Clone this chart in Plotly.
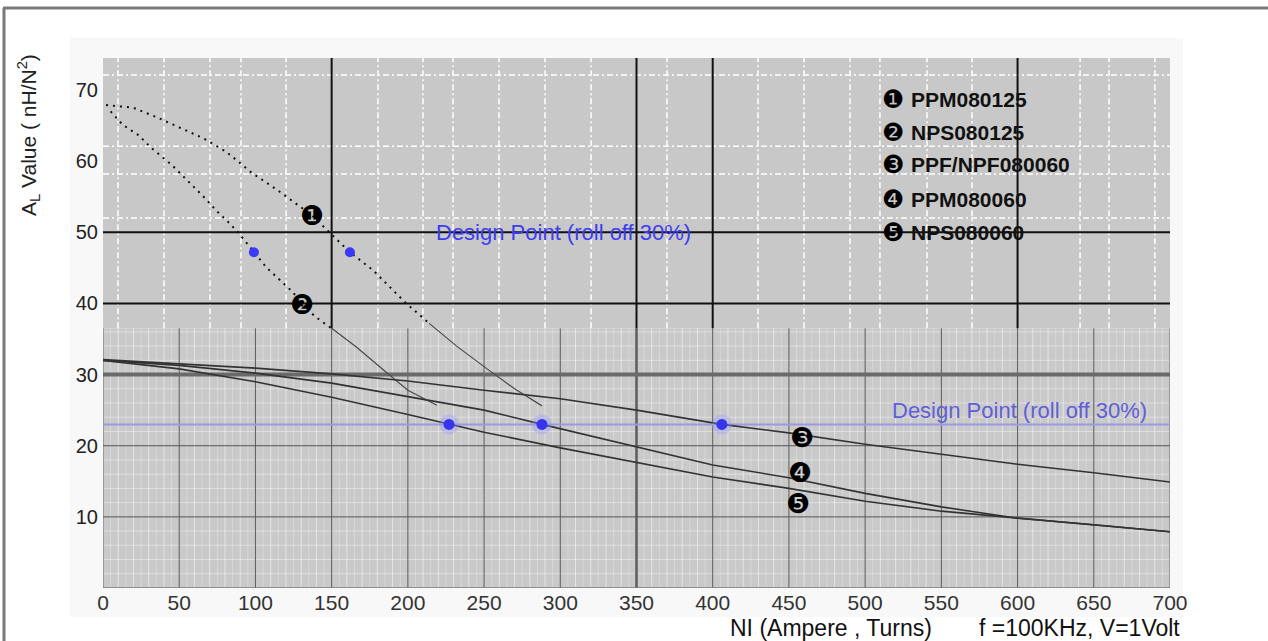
import plotly.graph_objects as go
import numpy as np

# ---------------- data ----------------
# upper dotted curves (part 1 & 2)
c1_dot_x = [2, 20, 35, 50, 66, 81, 98, 114, 131, 137, 162, 177, 198, 214]
c1_dot_y = [67.9, 67.5, 66.2, 64.8, 63.2, 61.3, 58.3, 56.0, 53.4, 52.4, 47.2, 44.7, 40.2, 37.2]
c1_sol_x = [214, 232, 252, 270, 288]
c1_sol_y = [37.2, 34.0, 30.8, 28.0, 25.6]

c2_dot_x = [5, 13, 23, 32, 45, 55, 66, 75, 81, 89, 99, 107, 116, 125, 130, 142, 150]
c2_dot_y = [67.0, 65.1, 63.7, 61.8, 59.5, 57.4, 55.0, 52.9, 51.7, 49.9, 47.2, 45.1, 43.3, 41.5, 39.8, 37.7, 36.5]
c2_sol_x = [150, 166, 186, 200, 219]
c2_sol_y = [36.5, 33.9, 30.3, 27.8, 25.7]

# lower curves
c3_x = [0, 50, 100, 150, 200, 250, 300, 350, 406, 450, 500, 550, 600, 650, 700]
c3_y = [32.1, 31.5, 30.9, 30.1, 29.1, 27.8, 26.6, 25.0, 23.0, 21.8, 20.2, 18.8, 17.4, 16.2, 14.9]
c4_x = [0, 50, 100, 150, 200, 250, 288, 350, 400, 450, 500, 550, 600, 650, 700]
c4_y = [32.0, 31.3, 30.2, 28.8, 26.9, 25.0, 23.0, 19.8, 17.3, 15.5, 13.3, 11.4, 9.8, 8.9, 7.9]
c5_x = [0, 50, 100, 150, 200, 227, 250, 300, 350, 400, 450, 500, 550, 600, 650, 700]
c5_y = [32.0, 30.8, 29.0, 26.8, 24.4, 23.0, 21.9, 19.7, 17.6, 15.6, 14.0, 12.2, 10.8, 9.8, 8.9, 7.9]

# design points
design_level = 23.0
dp_low_x = [227, 288, 406]
dp_low_y = [23.0, 23.0, 23.0]
dp_up_x = [99, 162]
dp_up_y = [47.2, 47.2]

# curve number labels
num_labels = ["\u2776", "\u2777", "\u2778", "\u2779", "\u277A"]
num_x = [137, 130.5, 458.6, 457.3, 456]
num_y = [52.4, 39.8, 21.1, 16.3, 11.9]

legend_nums = ["\u2776", "\u2777", "\u2778", "\u2779", "\u277A"]
legend_names = ["PPM080125", "NPS080125", "PPF/NPF080060", "PPM080060", "NPS080060"]
legend_y = [68.6, 64.0, 59.5, 54.6, 50.0]

x_ticks = list(range(0, 701, 50))
y_ticks = [10, 20, 30, 40, 50, 60, 70]

# grid of the (scanned) upper panel
up_white_x = [9.8, 40, 70.2, 90.5, 120.1, 180.4, 209.9, 229.6, 259.8, 290, 320.2, 370,
              429.7, 459.9, 490.1, 509.7, 540.6, 570.1, 641, 660, 690.1]
up_white_y = [72.1, 62.1, 58.2, 52.0]
up_black_x = [150, 350, 400, 600]
up_black_y = [40, 50]
split_y = 36.5
y_top = 74.5
x_max = 700

# ---------------- helpers ----------------
def vsegs(xs, y0, y1):
    X, Y = [], []
    for v in xs:
        X += [v, v, None]
        Y += [y0, y1, None]
    return X, Y

def hsegs(ys, x0, x1):
    X, Y = [], []
    for v in ys:
        X += [x0, x1, None]
        Y += [v, v, None]
    return X, Y

fig = go.Figure()

def add_lines(X, Y, color, width, dash="solid"):
    fig.add_trace(go.Scatter(x=X, y=Y, mode="lines", hoverinfo="skip", showlegend=False,
                             line=dict(color=color, width=width, dash=dash)))

FONT = "Liberation Sans, Arial, sans-serif"

# backgrounds
fig.add_shape(type="rect", xref="paper", yref="paper", x0=(70 - 103) / 1067, x1=(1183 - 103) / 1067,
              y0=(588 - 617) / 530, y1=(588 - 38) / 530, fillcolor="#f8f8f8", line=dict(width=0), layer="below")
fig.add_shape(type="rect", xref="x", yref="y", x0=0, x1=x_max, y0=0, y1=split_y,
              fillcolor="#c9c9c9", line=dict(width=0), layer="below")
fig.add_shape(type="rect", xref="x", yref="y", x0=0, x1=x_max, y0=split_y, y1=y_top,
              fillcolor="#c8c8c8", line=dict(width=0), layer="below")

# lower panel fine mesh
finer_x = [v for v in np.arange(5, x_max, 10)]
fine_x = [v for v in np.arange(0, x_max + 1, 10) if v % 50 != 0]
fine_y = [v for v in np.arange(0, split_y, 2) if v % 10 != 0]
add_lines(*vsegs(finer_x, 0, split_y), "rgba(255,255,255,0.25)", 1)
add_lines(*vsegs(fine_x, 0, split_y), "rgba(255,255,255,0.5)", 1)
add_lines(*hsegs(fine_y, 0, x_max), "rgba(255,255,255,0.4)", 1)
# lower major grid
add_lines(*vsegs([v for v in x_ticks if v not in (0, 350, 700)], 0, split_y), "#5c5c5c", 1)
add_lines(*vsegs([350], 0, split_y), "#5c5c5c", 2.5)
add_lines(*vsegs([0, 700], 0, split_y), "#8a8a8a", 1.5)
add_lines(*hsegs([0], 0, x_max), "#7a7a7a", 1.5)
add_lines(*hsegs([10, 20], 0, x_max), "#555555", 1)
add_lines(*hsegs([30], 0, x_max), "#6a6a6a", 4)

# upper panel grid
add_lines(*vsegs(up_white_x, split_y, y_top), "#ffffff", 1.5, "6px,3px,2px,3px")
add_lines(*hsegs(up_white_y, 0, x_max), "#ffffff", 1.5, "6px,3px,2px,3px")
add_lines(*vsegs(up_black_x, split_y, y_top), "#111111", 2)
add_lines(*hsegs(up_black_y, 0, x_max), "#111111", 2)

# design level line (lower)
add_lines([0, x_max], [design_level, design_level], "#9a9ae2", 2)

# curves
add_lines(c1_dot_x, c1_dot_y, "#111111", 2, "2px,5px")
add_lines(c2_dot_x, c2_dot_y, "#111111", 2, "2px,5px")
add_lines(c1_sol_x, c1_sol_y, "#4a4a4a", 1.2)
add_lines(c2_sol_x, c2_sol_y, "#4a4a4a", 1.2)
add_lines(c3_x, c3_y, "#333333", 1.6)
add_lines(c4_x, c4_y, "#333333", 1.6)
add_lines(c5_x, c5_y, "#333333", 1.6)

# design point dots
fig.add_trace(go.Scatter(x=dp_low_x, y=dp_low_y, mode="markers", hoverinfo="skip", showlegend=False,
                         marker=dict(size=20, color="rgba(150,150,255,0.35)")))
fig.add_trace(go.Scatter(x=dp_low_x, y=dp_low_y, mode="markers", hoverinfo="skip", showlegend=False,
                         marker=dict(size=11, color="#3535ee")))
fig.add_trace(go.Scatter(x=dp_up_x, y=dp_up_y, mode="markers", hoverinfo="skip", showlegend=False,
                         marker=dict(size=10, color="#3a3af5")))

# annotations
ann = []
for t, x, y in zip(num_labels, num_x, num_y):
    ann.append(dict(x=x, y=y, xref="x", yref="y", text=t, showarrow=False,
                    font=dict(family="DejaVu Sans", size=27, color="#000")))
for n, t, y in zip(legend_nums, legend_names, legend_y):
    ann.append(dict(x=509.7, y=y, xref="x", yref="y", text=n, showarrow=False, xanchor="left",
                    font=dict(family="DejaVu Sans", size=25, color="#000")))
    ann.append(dict(x=528.5, y=y, xref="x", yref="y", text="<b>" + t + "</b>", showarrow=False,
                    xanchor="left", font=dict(family=FONT, size=21, color="#111")))
ann.append(dict(x=301.8, y=50, xref="x", yref="y", text="Design Point (roll off 30%)", showarrow=False,
                font=dict(family=FONT, size=22, color="#3d3df0")))
ann.append(dict(x=601, y=25.0, xref="x", yref="y", text="Design Point (roll off 30%)", showarrow=False,
                font=dict(family=FONT, size=22, color="#5f5fd8")))
ann.append(dict(x=(28 - 103) / 1067, y=(588 - 135) / 530, xref="paper", yref="paper", textangle=-90,
                xanchor="center", yanchor="middle", showarrow=False,
                text="A<sub>L</sub> Value ( nH/N<sup>2</sup>)",
                font=dict(family=FONT, size=21, color="#222")))
ann.append(dict(x=(728 - 103) / 1067, y=(588 - 628) / 530, xref="paper", yref="paper", xanchor="left",
                yanchor="middle", text="NI (Ampere , Turns)", showarrow=False,
                font=dict(family=FONT, size=23, color="#111")))
ann.append(dict(x=(977 - 103) / 1067, y=(588 - 628) / 530, xref="paper", yref="paper", xanchor="left",
                yanchor="middle", text="f =100KHz, V=1Volt", showarrow=False,
                font=dict(family=FONT, size=23, color="#111")))

# outer frame (scan border)
fig.add_shape(type="line", xref="paper", yref="paper", x0=(3 - 103) / 1067, x1=(1268 - 103) / 1067,
              y0=(588 - 8) / 530, y1=(588 - 8) / 530, line=dict(color="#7a7a7a", width=3))
fig.add_shape(type="line", xref="paper", yref="paper", x0=(4 - 103) / 1067, x1=(4 - 103) / 1067,
              y0=(588 - 8) / 530, y1=(588 - 645) / 530, line=dict(color="#7a7a7a", width=3))

fig.update_layout(
    width=1268, height=641, autosize=False,
    margin=dict(l=103, r=98, t=58, b=53),
    paper_bgcolor="#ffffff", plot_bgcolor="#c9c9c9",
    annotations=ann,
    showlegend=False,
    xaxis=dict(range=[0, x_max], tickvals=x_ticks, showgrid=False, zeroline=False, showline=False,
               ticks="", tickfont=dict(family=FONT, size=21, color="#333"), fixedrange=True),
    yaxis=dict(range=[0, y_top], tickvals=y_ticks, showgrid=False, zeroline=False, showline=False,
               ticks="", ticklabelstandoff=4,
               tickfont=dict(family=FONT, size=20, color="#222"), fixedrange=True),
)

fig.write_html("out.html", config={"displayModeBar": False},
               post_script="document.body.style.margin='0';")
